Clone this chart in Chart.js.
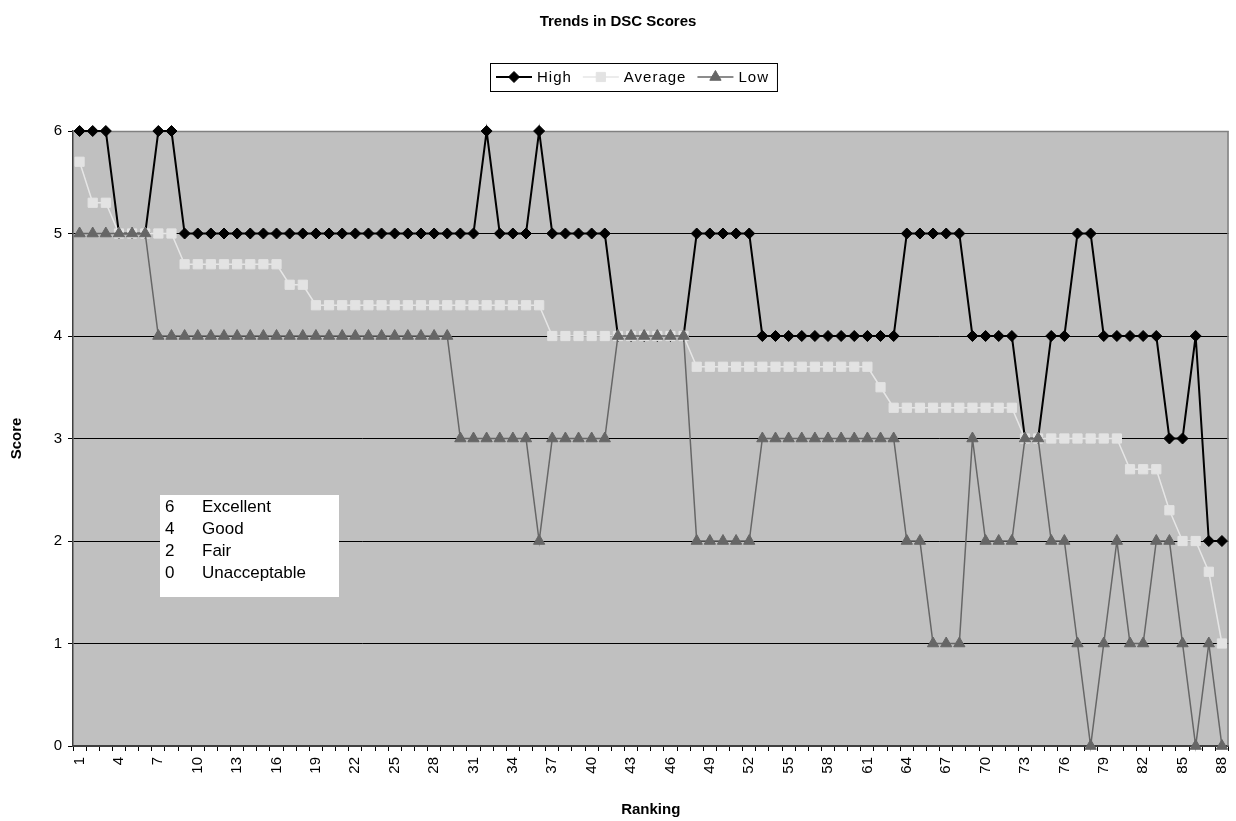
<!DOCTYPE html>
<html>
<head>
<meta charset="utf-8">
<script src="https://cdn.jsdelivr.net/npm/chart.js@4/dist/chart.umd.min.js"></script>
<style>
html,body{margin:0;padding:0;background:#ffffff;}
#wrap{width:1236px;height:821px;position:relative;}
</style>
</head>
<body>
<div id="wrap"><canvas id="c" width="1236" height="821"></canvas></div>
<script>
const chartTitle = 'Trends in DSC Scores';
const xTitle = 'Ranking';
const yTitle = 'Score';

const rankings = ['1','2','3','4','5','6','7','8','9','10','11','12','13','14','15','16','17','18','19','20',
  '21','22','23','24','25','26','27','28','29','30','31','32','33','34','35','36','37','38','39','40',
  '41','42','43','44','45','46','47','48','49','50','51','52','53','54','55','56','57','58','59','60',
  '61','62','63','64','65','66','67','68','69','70','71','72','73','74','75','76','77','78','79','80',
  '81','82','83','84','85','86','87','88'];

const high = [6,6,6,5,5,5,6,6,5,5, 5,5,5,5,5,5,5,5,5,5, 5,5,5,5,5,5,5,5,5,5,
  5,6,5,5,5,6,5,5,5,5, 5,4,4,4,4,4,4,5,5,5, 5,5,4,4,4,4,4,4,4,4,
  4,4,4,5,5,5,5,5,4,4, 4,4,3,3,4,4,5,5,4,4, 4,4,4,3,3,4,2,2];

const average = [5.7,5.3,5.3,5,5,5,5,5,4.7,4.7, 4.7,4.7,4.7,4.7,4.7,4.7,4.5,4.5,4.3,4.3,
  4.3,4.3,4.3,4.3,4.3,4.3,4.3,4.3,4.3,4.3, 4.3,4.3,4.3,4.3,4.3,4.3,4,4,4,4,
  4,4,4,4,4,4,4,3.7,3.7,3.7, 3.7,3.7,3.7,3.7,3.7,3.7,3.7,3.7,3.7,3.7,
  3.7,3.5,3.3,3.3,3.3,3.3,3.3,3.3,3.3,3.3, 3.3,3.3,3,3,3,3,3,3,3,3,
  2.7,2.7,2.7,2.3,2,2,1.7,1];

const low = [5,5,5,5,5,5,4,4,4,4, 4,4,4,4,4,4,4,4,4,4, 4,4,4,4,4,4,4,4,4,3,
  3,3,3,3,3,2,3,3,3,3, 3,4,4,4,4,4,4,2,2,2, 2,2,3,3,3,3,3,3,3,3,
  3,3,3,2,2,1,1,1,3,2, 2,2,3,3,2,2,1,0,1,2, 1,1,2,2,1,0,1,0];

const scoreKey = [['6','Excellent'],['4','Good'],['2','Fair'],['0','Unacceptable']];

const FONT = '"Liberation Sans", Arial, sans-serif';

const decorPlugin = {
  id: 'decor',
  beforeDraw(chart) {
    const {ctx, chartArea: a} = chart;
    ctx.save();
    ctx.fillStyle = '#C0C0C0';
    ctx.fillRect(a.left, a.top, a.right - a.left, a.bottom - a.top);
    ctx.restore();
  },
  beforeDatasetsDraw(chart) {
    const {ctx, chartArea: a} = chart;
    ctx.save();
    ctx.strokeStyle = '#808080';
    ctx.lineWidth = 1.5;
    ctx.beginPath();
    ctx.moveTo(a.left, a.top + 0.5);
    ctx.lineTo(a.right - 0.5, a.top + 0.5);
    ctx.lineTo(a.right - 0.5, a.bottom);
    ctx.stroke();
    ctx.restore();
  },
  afterDatasetsDraw(chart) {
    const {ctx} = chart;
    ctx.save();
    ctx.fillStyle = '#FFFFFF';
    ctx.fillRect(160, 495, 179, 102);
    ctx.fillStyle = '#000';
    ctx.font = '17px ' + FONT;
    ctx.textBaseline = 'middle';
    ctx.textAlign = 'left';
    scoreKey.forEach((row, i) => {
      const y = 507 + i * 22;
      ctx.fillText(row[0], 165, y);
      ctx.fillText(row[1], 202, y);
    });
    ctx.restore();
  },
  afterDraw(chart) {
    const {ctx} = chart;
    ctx.save();
    ctx.fillStyle = '#000';
    ctx.font = 'bold 15px ' + FONT;
    ctx.textAlign = 'center';
    ctx.textBaseline = 'middle';
    ctx.fillText(chartTitle, 618, 22);

    ctx.font = '15px ' + FONT;
    ctx.letterSpacing = '1px';
    ctx.textAlign = 'left';
    const ds = chart.data.datasets;
    const seg = 36, gap1 = 5, gap2 = 11, pad = 6;
    const widths = ds.map(d => ctx.measureText(d.label).width);
    let total = pad * 2 - gap2 + 2;
    widths.forEach(w => { total += seg + gap1 + w + gap2; });
    const left = Math.round(633 - total / 2);
    const top = 63, h = 28, cy = top + h / 2;
    ctx.fillStyle = '#FFFFFF';
    ctx.fillRect(left, top, total, h);
    ctx.strokeStyle = '#000';
    ctx.lineWidth = 1;
    ctx.strokeRect(left + 0.5, top + 0.5, total, h);
    let x = left + pad;
    ds.forEach((d, i) => {
      ctx.strokeStyle = d.borderColor;
      ctx.lineWidth = d.borderWidth;
      ctx.beginPath();
      ctx.moveTo(x, cy);
      ctx.lineTo(x + seg, cy);
      ctx.stroke();
      ctx.save();
      ctx.fillStyle = d.pointBackgroundColor;
      ctx.strokeStyle = d.pointBorderColor;
      ctx.lineWidth = 1;
      Chart.helpers.drawPoint(ctx, {
        pointStyle: d.pointStyle, radius: d.pointRadius, rotation: 0, borderWidth: 1
      }, x + seg / 2, cy);
      ctx.restore();
      ctx.fillStyle = '#000';
      ctx.fillText(d.label, x + seg + gap1, cy + 1);
      x += seg + gap1 + widths[i] + gap2;
    });
    ctx.restore();
  }
};

new Chart(document.getElementById('c'), {
  type: 'line',
  data: {
    labels: rankings,
    datasets: [
      {label: 'High', data: high, borderColor: '#000000', borderWidth: 2,
       pointStyle: 'rectRot', pointRadius: 5.5, pointBackgroundColor: '#000000',
       pointBorderColor: '#000000', pointBorderWidth: 1, order: 3, clip: false, tension: 0},
      {label: 'Average', data: average, borderColor: '#E6E6E6', borderWidth: 1.5,
       pointStyle: 'rect', pointRadius: 6.5, pointBackgroundColor: '#E3E3E3',
       pointBorderColor: '#E3E3E3', pointBorderWidth: 1, order: 2, clip: false, tension: 0},
      {label: 'Low', data: low, borderColor: '#666666', borderWidth: 1.5,
       pointStyle: 'triangle', pointRadius: 6.5, pointBackgroundColor: '#666666',
       pointBorderColor: '#666666', pointBorderWidth: 1, order: 1, clip: false, tension: 0}
    ]
  },
  options: {
    responsive: false,
    animation: false,
    devicePixelRatio: 1,
    layout: {padding: {top: 131, right: 5, bottom: 0, left: 0}},
    plugins: {
      legend: {display: false},
      title: {display: false},
      tooltip: {enabled: false}
    },
    elements: {point: {hoverRadius: 6}},
    scales: {
      x: {
        type: 'category',
        offset: true,
        grid: {offset: true, drawOnChartArea: false, drawTicks: true, tickLength: 5,
               color: '#000', tickColor: '#000', lineWidth: 1},
        border: {color: '#404040', width: 1.5},
        ticks: {autoSkip: false, maxRotation: 90, minRotation: 90, padding: 6,
                color: '#000', font: {family: FONT, size: 15},
                callback: (v, i) => (i % 3 === 0 ? rankings[i] : '')},
        title: {display: true, text: xTitle, color: '#000',
                font: {family: FONT, size: 15, weight: 'bold'}, padding: {top: 0, bottom: 2}},
        afterFit: s => { s.height = 75; s.paddingLeft = 0; s.paddingRight = 0; }
      },
      y: {
        min: 0, max: 6,
        grid: {drawTicks: true, tickLength: 5, tickColor: '#000', lineWidth: 1,
               color: c => (c.tick && c.tick.value === 0 ? '#404040' : (c.tick && c.tick.value === 6 ? '#808080' : '#000000'))},
        border: {color: '#404040', width: 1.5},
        ticks: {stepSize: 1, padding: 6, color: '#000', font: {family: FONT, size: 15}},
        title: {display: true, text: yTitle, color: '#000',
                font: {family: FONT, size: 15, weight: 'bold'}, padding: {top: 8, bottom: 0}},
        afterFit: s => { s.width = 73; }
      }
    }
  },
  plugins: [decorPlugin]
});
</script>
</body>
</html>
